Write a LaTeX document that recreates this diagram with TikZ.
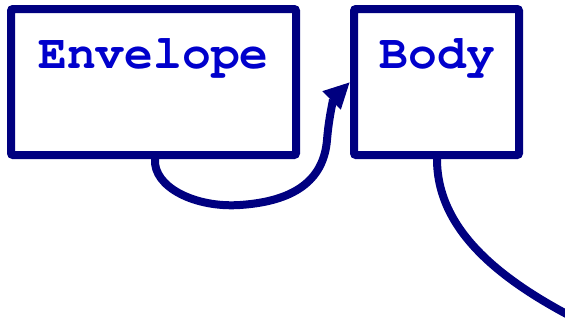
\documentclass[tikz,border=0pt]{standalone}
\usepackage{fontspec}
\newfontfamily\cursorfont{texgyrecursor}[Extension=.otf, UprightFont=*-regular, BoldFont=*-bold]
\usetikzlibrary{arrows.meta}
\definecolor{navy}{RGB}{0,0,128}
\definecolor{txtblue}{RGB}{0,0,204}
\tikzset{
  box/.style={draw=navy, line width=8pt, rounded corners=2pt, fill=white, inner sep=0pt, anchor=north west},
  lbl/.style={text=txtblue, font=\cursorfont\bfseries\fontsize{48}{48}\selectfont, inner sep=0pt, anchor=base},
  conn/.style={draw=navy, line width=8pt}
}
\begin{document}
\begin{tikzpicture}[x=1pt,y=-1pt]
\fill[white] (0,0) rectangle (565,322);
\useasboundingbox (0,0) rectangle (565,322);
\node[box, minimum width=285pt, minimum height=146pt] (env) at (7,5) {};
\node[box, minimum width=165pt, minimum height=146pt] (body) at (350,5) {};
\node[lbl] (envt) at (153.5,68) {Envelope};
\node[lbl] (bodyt) at (437.5,68) {Body};
\coordinate (end) at (578,320);
\draw[conn, -{Triangle[length=26pt,width=24pt]}] ([xshift=1.5pt]env.south)
  .. controls (153,187) and (195,208) .. (240,205)
  .. controls (300,201) and (324,176) .. (327,140)
  .. controls (329,115) and (334,98) .. (body.west);
\draw[conn] ([xshift=0.5pt]body.south) .. controls (437,230) and (500,280) .. (end);
\end{tikzpicture}
\end{document}
